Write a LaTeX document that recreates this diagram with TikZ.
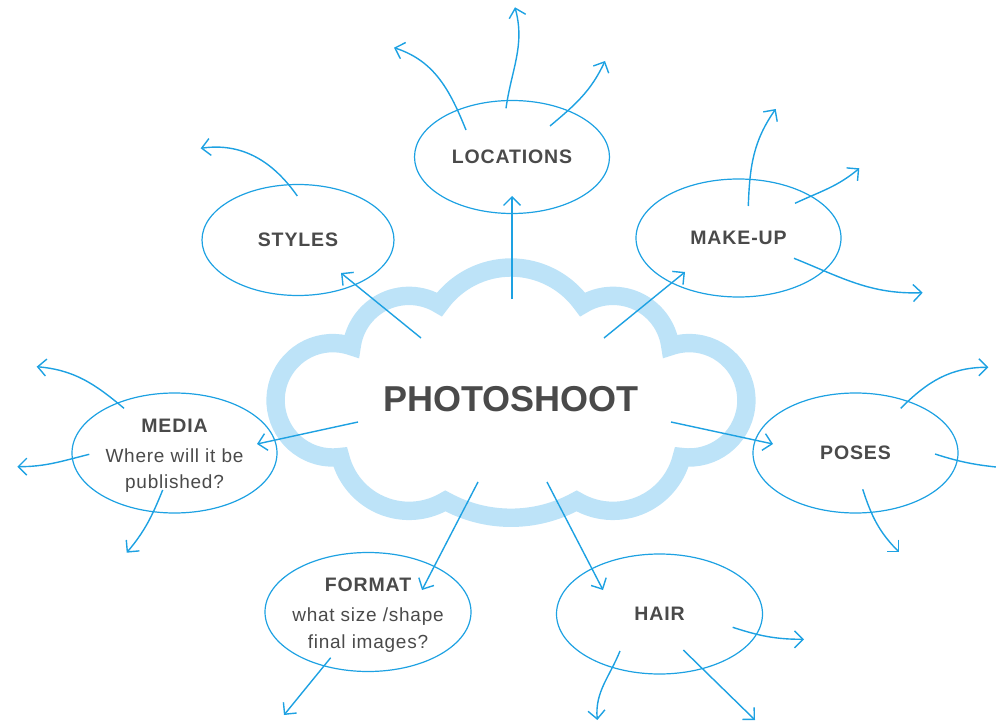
\documentclass[tikz,border=0pt]{standalone}
\usepackage{fontspec}
\setmainfont{Liberation Sans}
\newfontfamily\labelfont[LetterSpace=4.5]{Liberation Sans}
\newfontfamily\notefont[LetterSpace=4]{Liberation Sans}
\usetikzlibrary{shapes.geometric, arrows.meta, calc}
\definecolor{skyline}{HTML}{1DA1E2}
\definecolor{cloudblue}{HTML}{BDE3F8}
\definecolor{ink}{HTML}{4A4A4A}
\newcommand\ideahead[1]{{\labelfont\bfseries\fontsize{19.5}{23}\selectfont #1}}

\begin{document}
\begin{tikzpicture}[x=1pt, y=1pt,
    idea/.style={ellipse, draw=skyline, line width=1.2pt, inner sep=0pt},
    tag/.style={font=\labelfont\bfseries\fontsize{19.5}{23}\selectfont, text=ink},
    note/.style={font=\notefont\fontsize{19}{26.5}\selectfont, text=ink, align=center, yshift=-3pt},
    link/.style={draw=skyline, line width=1.4pt, -{Straight Barb[length=8.5pt,width=17pt]}},
    puff/.style={draw=cloudblue, line width=18.4pt, fill=white, line join=miter}
  ]
  \useasboundingbox (0,0) rectangle (996,-722);
  \clip (0,0) rectangle (996,-722);

  % cloud outline, one arc per lobe, starting on top of the big lobe
  \draw[puff] (511.2,-267.5)
    arc[start angle=90, end angle=144.6, radius=88]
    arc[start angle=58.2, end angle=172.7, radius=57.8]
    arc[start angle=70.7, end angle=277.5, radius=57.2]
    arc[start angle=193.9, end angle=300.8, radius=70.9]
    arc[start angle=241.1, end angle=298.9, radius=135.8]
    arc[start angle=239.2, end angle=346.1, radius=70.9]
    arc[start angle=-97.5, end angle=109.3, radius=57.2]
    arc[start angle=7.3, end angle=121.8, radius=57.8]
    arc[start angle=35.4, end angle=90, radius=88]
    -- cycle;

  \node[font=\bfseries\fontsize{36}{40}\selectfont, text=ink] (hub) at (511,-399.5) {PHOTOSHOOT};

  % topics round the cloud
  \node[idea, minimum width=192pt, minimum height=111pt, label={[tag]center:STYLES}] (styles) at (298,-240) {};
  \node[idea, minimum width=195pt, minimum height=113pt, label={[tag]center:LOCATIONS}] (locations) at (512,-157) {};
  \node[idea, minimum width=205pt, minimum height=118pt, label={[tag]center:MAKE-UP}] (makeup) at (738.5,-238) {};
  \node[idea, minimum width=205pt, minimum height=120pt,
        label={[note]center:{\ideahead{MEDIA}\\[3.5pt]Where will it be\\published?}}] (media) at (174.5,-453) {};
  \node[idea, minimum width=205pt, minimum height=120pt, label={[tag]center:POSES}] (poses) at (855.5,-453) {};
  \node[idea, minimum width=206pt, minimum height=119pt,
        label={[note]center:{\ideahead{FORMAT}\\[3.5pt]what size /shape\\final images?}}] (format) at (368,-612) {};
  \node[idea, minimum width=206pt, minimum height=120pt, label={[tag]center:HAIR}] (hair) at (659.5,-614) {};

  % spokes out of the cloud
  \draw[link] ($(hub)+(-90,61.5)$) -- ($(styles)+(43,-33)$);
  \draw[link] ($(hub)+(1,100.5)$) -- ($(locations)+(0,-39)$);
  \draw[link] ($(hub)+(93,61.5)$) -- ($(makeup)+(-53.5,-34)$);
  \draw[link] ($(hub)+(-153,-22.5)$) -- ($(media)+(82.5,9)$);
  \draw[link] ($(hub)+(160,-22.5)$) -- ($(poses)+(-82.5,9)$);
  \draw[link] ($(hub)+(-33,-82.5)$) -- ($(format)+(54,22)$);
  \draw[link] ($(hub)+(36,-82.5)$) -- ($(hair)+(-56.5,24)$);

  % open branches
  \draw[link] ($(locations)+(-46,27)$) to[out=112,in=-18] ($(locations)+(-118,109.3)$);
  \draw[link] ($(locations)+(-6,48.7)$) to[out=82,in=-75] ($(locations)+(3,149.7)$);
  \draw[link] ($(locations)+(38,31)$) to[out=40,in=-115] ($(locations)+(93,96)$);
  \draw[link] ($(styles)+(-0.7,44)$) to[out=125,in=8] ($(styles)+(-97.3,91.7)$);
  \draw[link] ($(makeup)+(9.8,32)$) to[out=88,in=-125] ($(makeup)+(37.2,129)$);
  \draw[link] ($(makeup)+(56.5,34.7)$) to[out=25,in=-140] ($(makeup)+(120.8,69.7)$);
  \draw[link] ($(makeup)+(55.5,-20.3)$) to[out=-22,in=182] ($(makeup)+(184.2,-54.7)$);
  \draw[link] ($(media)+(-50.5,44.7)$) to[out=140,in=-5] ($(media)+(-137.8,86.3)$);
  \draw[link] ($(media)+(-85.2,-1.3)$) to[out=-166,in=0] ($(media)+(-157.2,-13.7)$);
  \draw[link] ($(media)+(-11.8,-37)$) to[out=-112,in=50] ($(media)+(-47.8,-99.7)$);
  \draw[link] ($(poses)+(45.2,44.7)$) to[out=45,in=180] ($(poses)+(132.8,85.7)$);
  \draw[link] ($(poses)+(79.5,-1)$) to[out=-18,in=175] ($(poses)+(156.5,-15.5)$);
  \draw[link] ($(poses)+(7.2,-36.3)$) to[out=-72,in=135] ($(poses)+(43.8,-99.3)$);
  \draw[link] ($(format)+(-37.3,-45.7)$) -- ($(format)+(-84,-103)$);
  \draw[link] ($(hair)+(73.2,-13.3)$) to[out=-18,in=180] ($(hair)+(144.5,-25.3)$);
  \draw[link] ($(hair)+(-39.5,-37)$) to[out=-112,in=95] ($(hair)+(-62.2,-106)$);
  \draw[link] ($(hair)+(23.8,-36)$) -- ($(hair)+(95.5,-106)$);
\end{tikzpicture}
\end{document}
